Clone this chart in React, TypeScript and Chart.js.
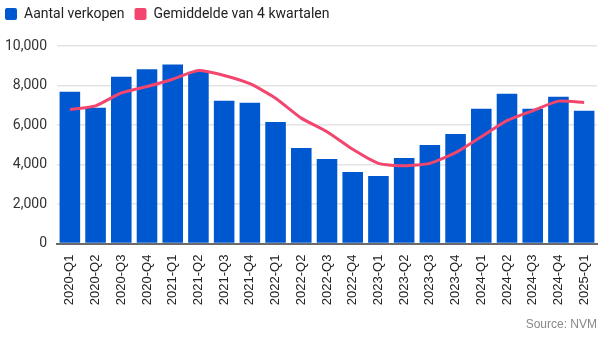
import React, { useEffect, useRef } from "react";
import { Chart, registerables } from "chart.js";

Chart.register(...registerables);

const categories = [
  "2020-Q1", "2020-Q2", "2020-Q3", "2020-Q4",
  "2021-Q1", "2021-Q2", "2021-Q3", "2021-Q4",
  "2022-Q1", "2022-Q2", "2022-Q3", "2022-Q4",
  "2023-Q1", "2023-Q2", "2023-Q3", "2023-Q4",
  "2024-Q1", "2024-Q2", "2024-Q3", "2024-Q4",
  "2025-Q1",
];

const verkopen = [
  7680, 6870, 8450, 8820,
  9070, 8700, 7230, 7130,
  6160, 4840, 4280, 3620,
  3420, 4330, 4990, 5550,
  6820, 7580, 6820, 7430,
  6720,
];

const gemiddelde = [
  6780, 6970, 7630, 7950,
  8320, 8760, 8510, 8090,
  7360, 6350, 5660, 4770,
  4060, 3940, 4060, 4600,
  5410, 6220, 6720, 7210,
  7140,
];

const seriesNames = ["Aantal verkopen", "Gemiddelde van 4 kwartalen"];
const sourceText = "Source: NVM";

const BLUE = "#0058d0";
const PINK = "#f2466f";

export default function App() {
  const ref = useRef<HTMLCanvasElement | null>(null);

  useEffect(() => {
    document.body.style.margin = "0";
    const canvas = ref.current;
    if (!canvas) return;

    const legendShift = {
      id: "legendShift",
      afterLayout(chart: any) {
        const lg = chart.legend;
        if (lg) {
          lg.left -= 5;
          lg.right -= 5;
          lg.top -= 15;
          lg.bottom -= 15;
        }
      },
    };

    const chart = new Chart(canvas, {
      type: "bar",
      data: {
        labels: categories,
        datasets: [
          {
            type: "bar",
            label: seriesNames[0],
            data: verkopen,
            backgroundColor: BLUE,
            borderWidth: 0,
            barPercentage: 0.8,
            categoryPercentage: 1,
            order: 1,
          },
          {
            type: "line",
            label: seriesNames[1],
            data: gemiddelde,
            borderColor: PINK,
            backgroundColor: PINK,
            borderWidth: 3,
            pointRadius: 0,
            tension: 0.2,
            order: 0,
          } as any,
        ],
      },
      options: {
        responsive: false,
        animation: false,
        layout: { padding: { top: 12, left: 0, right: 19, bottom: 0 } },
        plugins: {
          legend: {
            position: "top",
            align: "start",
            labels: {
              boxWidth: 12,
              boxHeight: 12,
              padding: 10,
              color: "#222",
              font: { family: "Roboto", size: 14 },
              useBorderRadius: true,
              borderRadius: 2,
              sort: (a: any, b: any) => a.datasetIndex - b.datasetIndex,
              generateLabels: (chart: any) =>
                chart.data.datasets.map((ds: any, i: number) => ({
                  text: ds.label,
                  fillStyle: i === 0 ? BLUE : PINK,
                  strokeStyle: i === 0 ? BLUE : PINK,
                  lineWidth: 0,
                  hidden: false,
                  datasetIndex: i,
                  borderRadius: 2,
                  fontColor: "#222",
                })),
            },
          },
          subtitle: {
            display: true,
            text: sourceText,
            position: "bottom",
            align: "end",
            color: "#888",
            font: { family: "Liberation Sans", size: 12, weight: "normal" },
            padding: { top: 12, bottom: 10 },
          },
          tooltip: { enabled: false },
        },
        scales: {
          x: {
            afterFit: (scale: any) => {
              scale.height = 62;
            },
            grid: { display: false, drawTicks: false },
            border: { display: true, color: "#6b6b6b", width: 2 },
            ticks: {
              minRotation: 90,
              maxRotation: 90,
              autoSkip: false,
              padding: 11,
              color: "#222",
              font: { family: "Liberation Sans", size: 13 },
            },
          },
          y: {
            min: 0,
            max: 10000,
            afterFit: (scale: any) => {
              scale.width = 57;
            },
            ticks: {
              stepSize: 2000,
              padding: 10,
              color: "#333",
              font: { family: "Roboto", size: 14 },
              callback: (v: any) => Number(v).toLocaleString("en-US"),
            },
            grid: { color: "#e4e4e4", lineWidth: 1.5, drawTicks: false },
            border: { display: false },
          },
        },
      },
      plugins: [legendShift],
    });

    return () => chart.destroy();
  }, []);

  return (
    <div style={{ width: 616, height: 342 }}>
      <canvas ref={ref} width={616} height={342} />
    </div>
  );
}
